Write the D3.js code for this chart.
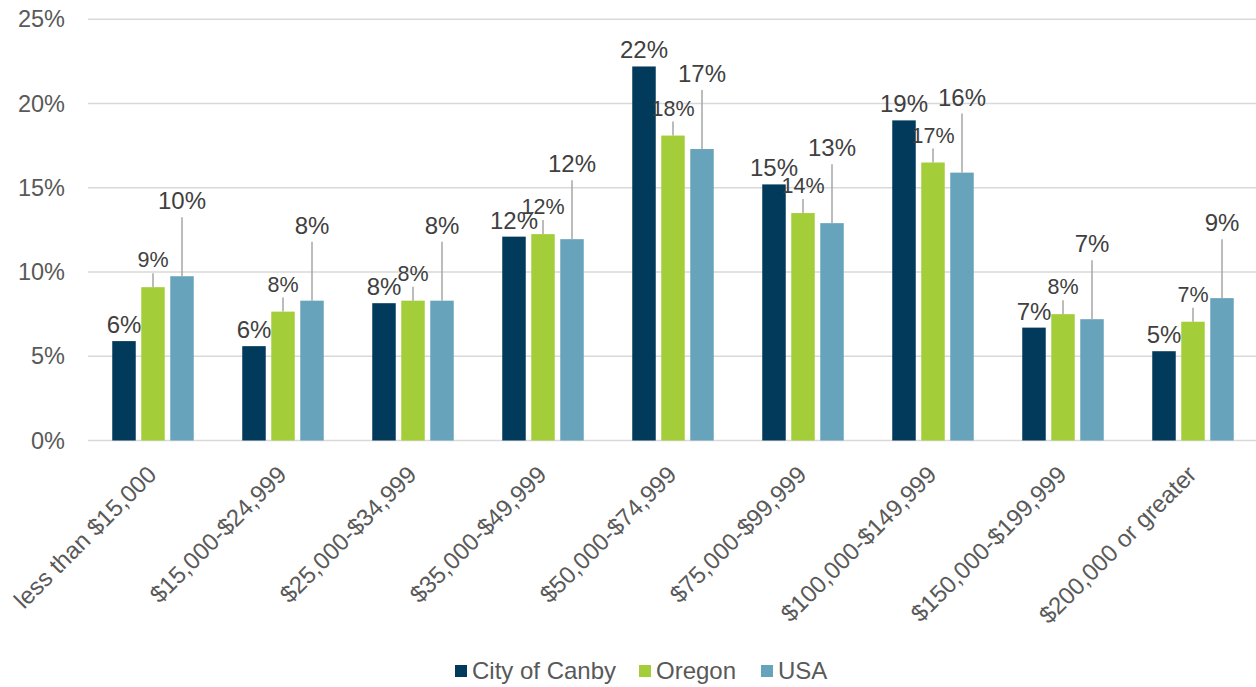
<!DOCTYPE html>
<html><head><meta charset="utf-8">
<script src="https://cdn.jsdelivr.net/npm/d3@7"></script>
<style>body{margin:0;background:#fff;font-family:Arial,"Liberation Sans",sans-serif;}</style>
</head><body><svg id="c" width="1256" height="687"></svg>
<script>
const categories = ["less than $15,000","$15,000-$24,999","$25,000-$34,999","$35,000-$49,999","$50,000-$74,999","$75,000-$99,999","$100,000-$149,999","$150,000-$199,999","$200,000 or greater"];
const seriesNames = ["City of Canby","Oregon","USA"];
const canby  = [5.9, 5.6, 8.15, 12.1, 22.2, 15.2, 19.0, 6.7, 5.3];
const oregon = [9.1, 7.65, 8.3, 12.25, 18.1, 13.5, 16.5, 7.5, 7.05];
const usa    = [9.75, 8.3, 8.3, 11.95, 17.3, 12.9, 15.9, 7.2, 8.45];
const labels = [
  ["6%","6%","8%","12%","22%","15%","19%","7%","5%"],
  ["9%","8%","8%","12%","18%","14%","17%","8%","7%"],
  ["10%","8%","8%","12%","17%","13%","16%","7%","9%"]
];
const yTicks = [0,5,10,15,20,25];
const colors = ["#023A5C","#A4CE39","#68A3BC"];
const seriesValues = [canby, oregon, usa];
const FONT = "Arial,'Liberation Sans',sans-serif";

const svg = d3.select("#c");
const x0 = d3.scaleBand().domain(categories).range([88,1258]).padding(0);
const x1 = d3.scaleBand().domain(seriesNames).range([-40.75,40.75]).paddingInner(0.19).paddingOuter(0);
const y = d3.scaleLinear().domain([0,25]).range([440.5,19.3]);

// gridlines
svg.append("g").selectAll("line").data(yTicks).join("line")
  .attr("x1",88).attr("x2",1256).attr("y1",d=>y(d)).attr("y2",d=>y(d))
  .attr("stroke","#d9d9d9").attr("stroke-width",1.5);

// y axis labels
const yAxis = d3.axisLeft(y).tickValues(yTicks).tickFormat(d=>d+"%").tickSize(0).tickPadding(0);
const ya = svg.append("g").attr("transform","translate(65,0)").call(yAxis);
ya.select(".domain").remove();
ya.selectAll("text").attr("font-size",23.5).attr("fill","#595959").attr("font-family",FONT);

// bars
const groups = svg.append("g").selectAll("g").data(categories).join("g")
  .attr("transform",d=>`translate(${x0(d)+x0.bandwidth()/2},0)`);
seriesNames.forEach((s,si)=>{
  groups.append("rect")
    .attr("x",x1(s)).attr("width",x1.bandwidth())
    .attr("y",(d,i)=>y(seriesValues[si][i]))
    .attr("height",(d,i)=>y(0)-y(seriesValues[si][i]))
    .attr("fill",colors[si]);
});

// labels
const lab = svg.append("g").attr("font-family",FONT).attr("fill","#404040");
const offs = [8, 20, 67];
const lineTop = [null, 14, 59];
const fsz = [24, 21.5, 24];
categories.forEach((c,i)=>{
  seriesNames.forEach((s,si)=>{
    const cx = x0(c)+x0.bandwidth()/2 + x1(s) + x1.bandwidth()/2;
    const top = y(seriesValues[si][i]);
    if(lineTop[si]!==null){
      svg.append("line").attr("x1",cx).attr("x2",cx).attr("y1",top-lineTop[si]).attr("y2",top)
        .attr("stroke","#a6a6a6").attr("stroke-width",1.5);
    }
    lab.append("text").attr("x",cx).attr("y",top-offs[si]).attr("text-anchor","middle")
      .attr("font-size",fsz[si]).text(labels[si][i]);
  });
});

// x category labels
svg.append("g").selectAll("text").data(categories).join("text")
  .attr("transform",d=>`translate(${x0(d)+x0.bandwidth()/2+5},476) rotate(-45)`)
  .attr("text-anchor","end").attr("font-size",24).attr("fill","#595959")
  .attr("font-family",FONT).text(d=>d);

// legend
const legX = [455, 639, 761];
const leg = svg.append("g");
seriesNames.forEach((s,si)=>{
  leg.append("rect").attr("x",legX[si]).attr("y",665).attr("width",12).attr("height",12).attr("fill",colors[si]);
  leg.append("text").attr("x",legX[si]+17).attr("y",678.5).attr("font-size",24).attr("fill","#595959")
    .attr("font-family",FONT).text(s);
});
</script></body></html>
